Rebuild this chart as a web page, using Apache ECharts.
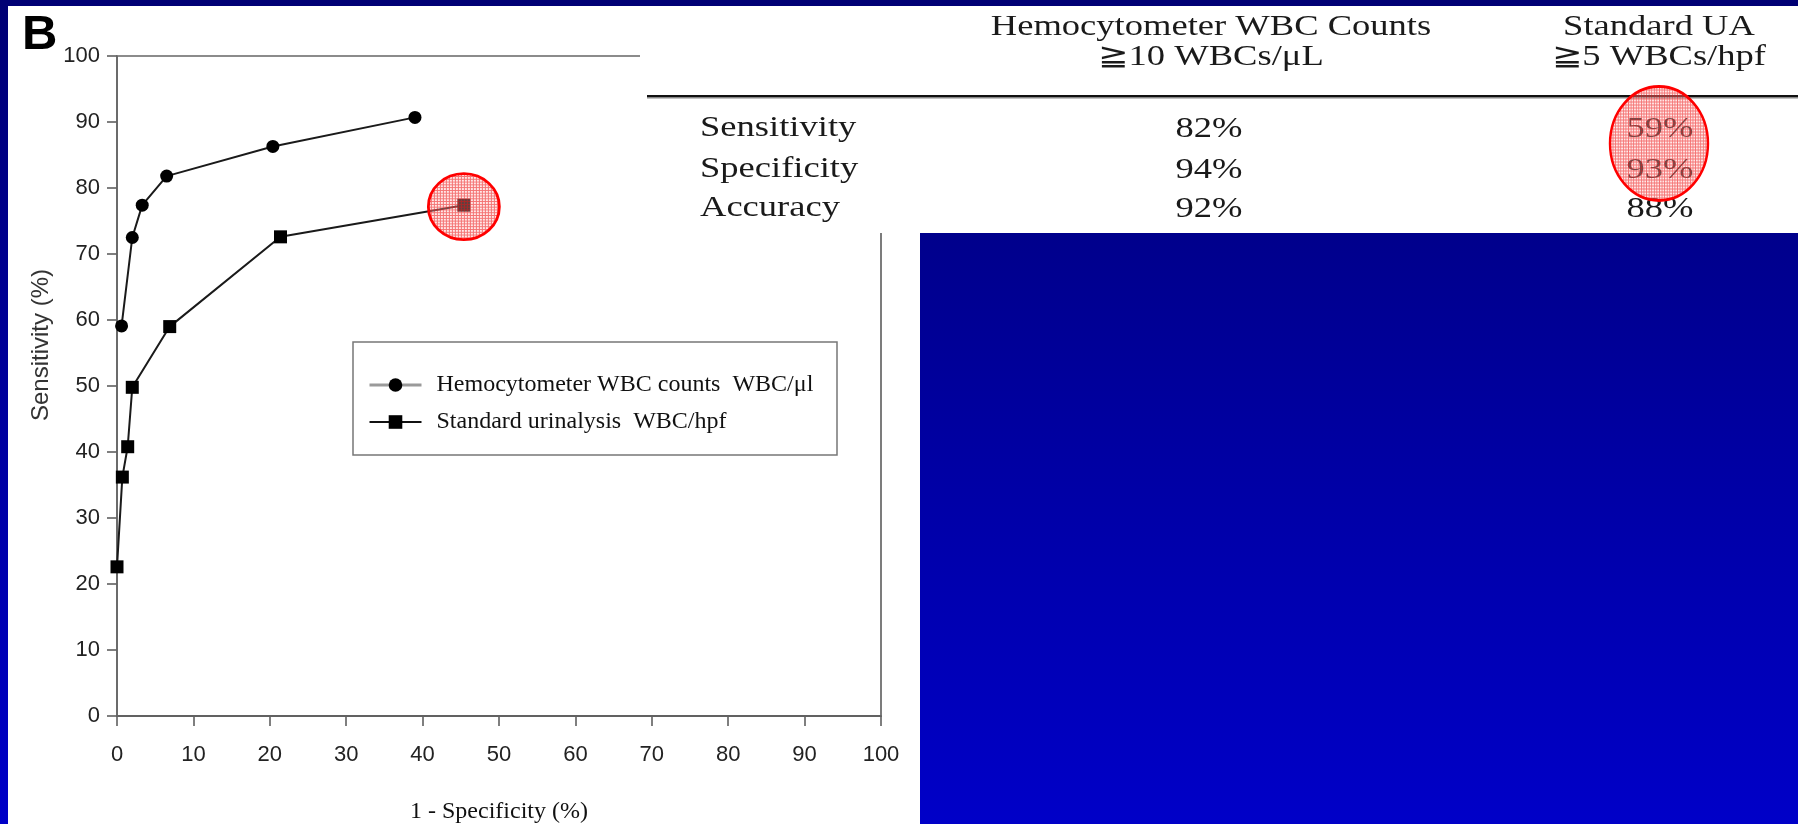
<!DOCTYPE html>
<html>
<head>
<meta charset="utf-8">
<script src="https://cdn.jsdelivr.net/npm/echarts@6/dist/echarts.min.js"></script>
<style>
html,body{margin:0;padding:0;background:#00009a;overflow:hidden;}
#c{width:1798px;height:824px;}
</style>
</head>
<body>
<div id="c"></div>
<script>
// ---------- data ----------
const seriesNames = ['Hemocytometer WBC counts  WBC/\u03bcl', 'Standard urinalysis  WBC/hpf'];
const hemoX = [0.6, 2.0, 3.3, 6.5, 20.4, 39.0];
const hemoY = [59.1, 72.5, 77.4, 81.8, 86.3, 90.7];
const uaX = [0, 0.7, 1.4, 2.0, 6.9, 21.4, 45.4];
const uaY = [22.6, 36.2, 40.8, 49.8, 59.0, 72.6, 77.4];
const xAxisName = '1 - Specificity (%)';
const yAxisName = 'Sensitivity (%)';
const panelLabel = 'B';
const tableColHeaders = [['Hemocytometer WBC Counts', '\u226710 WBCs/\u03bcL'], ['Standard UA', '\u22675 WBCs/hpf']];
const tableRowLabels = ['Sensitivity', 'Specificity', 'Accuracy'];
const hemoStats = ['82%', '94%', '92%'];
const uaStats = ['59%', '93%', '88%'];

// ---------- chart ----------
const chart = echarts.init(document.getElementById('c'), null, {renderer: 'canvas'});

function pts(xs, ys) { return xs.map((x, i) => [x, ys[i]]); }

const tickFont = '"Liberation Sans", Arial, sans-serif';
const serif = '"Liberation Serif", "Times New Roman", serif';

chart.setOption({
  animation: false,
  backgroundColor: {
    type: 'linear', x: 0, y: 0, x2: 0, y2: 1,
    colorStops: [{offset: 0, color: '#000074'}, {offset: 1, color: '#0000c8'}]
  },
  grid: {
    left: 117, top: 56, width: 764, height: 660,
    containLabel: false, outerBoundsMode: 'none',
    show: true, borderColor: '#666', borderWidth: 1.7, backgroundColor: 'transparent', z: 1
  },
  legend: {
    orient: 'vertical', left: 363, top: 368,
    itemWidth: 52, itemHeight: 17, itemGap: 13,
    textStyle: {fontFamily: serif, fontSize: 24, color: '#111', lineHeight: 24, padding: [0, 0, 0, 10]},
    data: [
      {name: seriesNames[0], lineStyle: {color: '#9a9a9a', width: 3}},
      {name: seriesNames[1], lineStyle: {color: '#111', width: 2}}
    ],
    z: 6
  },
  xAxis: {
    type: 'value', min: 0, max: 100, interval: 10,
    name: xAxisName, nameLocation: 'middle', nameGap: 84,
    nameTextStyle: {fontFamily: serif, fontSize: 24, color: '#111'},
    axisLine: {show: true, onZero: false, lineStyle: {color: '#555', width: 1.8}},
    axisTick: {show: true, length: 10, lineStyle: {color: '#555', width: 1.5}},
    axisLabel: {fontFamily: tickFont, fontSize: 22, color: '#222', margin: 28},
    splitLine: {show: false}
  },
  yAxis: {
    type: 'value', min: 0, max: 100, interval: 10,
    axisLine: {show: true, onZero: false, lineStyle: {color: '#666', width: 1.5}},
    axisTick: {show: true, length: 10, lineStyle: {color: '#555', width: 1.5}},
    axisLabel: {fontFamily: tickFont, fontSize: 22, color: '#222', margin: 17},
    splitLine: {show: false}
  },
  series: [
    {
      name: seriesNames[0], type: 'line', data: pts(hemoX, hemoY),
      symbol: 'circle', symbolSize: 13,
      lineStyle: {color: '#1a1a1a', width: 2},
      itemStyle: {color: '#000'}, z: 3
    },
    {
      name: seriesNames[1], type: 'line', data: pts(uaX, uaY),
      symbol: 'rect', symbolSize: 13,
      lineStyle: {color: '#1a1a1a', width: 2},
      itemStyle: {color: '#000'}, z: 3
    }
  ]
});

// red hatched pattern for highlight ellipses
function makePattern() {
  const cv = document.createElement('canvas');
  cv.width = 3; cv.height = 3;
  const g = cv.getContext('2d');
  g.fillStyle = 'rgba(255,190,190,0.35)';
  g.fillRect(0, 0, 3, 3);
  g.fillStyle = 'rgba(235,20,20,0.55)';
  g.fillRect(0, 0, 3, 1);
  g.fillRect(0, 1, 1, 2);
  return {image: cv, repeat: 'repeat'};
}
const pat1 = makePattern();
const pat2 = makePattern();

const hp = chart.convertToPixel({gridIndex: 0}, [uaX[uaX.length - 1], uaY[uaY.length - 1]]);

// table layout
const colCenters = [1211, 1659];
const rowMid = [128, 169, 208];
const headMid = [27, 57];
const tScale = 1.26;
const tFont = 29;

const g = [];
// white panels
g.push({type: 'rect', id: 'panelChart', z: -10, shape: {x: 8, y: 6, width: 912, height: 830}, style: {fill: '#fff'}, silent: true});
g.push({type: 'rect', id: 'panelTable', z: 10, shape: {x: 640, y: 6, width: 1170, height: 227}, style: {fill: '#fff'}, silent: true});
// table rule
g.push({type: 'rect', id: 'tRule', z: 11, shape: {x: 647, y: 95, width: 1160, height: 2.6}, style: {fill: '#111'}});
g.push({type: 'rect', id: 'tRule2', z: 11, shape: {x: 647, y: 97.6, width: 1160, height: 1}, style: {fill: '#888'}});
// headers
tableColHeaders.forEach((hs, ci) => {
  hs.forEach((t, li) => {
    g.push({type: 'text', z: 12, x: colCenters[ci], y: headMid[li], scaleX: tScale,
      style: {text: t, fontFamily: serif + ', "DejaVu Serif"', fontSize: tFont, fill: '#1a1a1a', align: 'center', verticalAlign: 'middle'}});
  });
});
tableRowLabels.forEach((t, ri) => {
  g.push({type: 'text', z: 12, x: 700, y: rowMid[ri], scaleX: tScale,
    style: {text: t, fontFamily: serif, fontSize: tFont, fill: '#1a1a1a', align: 'left', verticalAlign: 'middle'}});
  g.push({type: 'text', z: 12, x: colCenters[0] - 2, y: rowMid[ri] + 1, scaleX: tScale,
    style: {text: hemoStats[ri], fontFamily: serif, fontSize: tFont, fill: '#1a1a1a', align: 'center', verticalAlign: 'middle'}});
  g.push({type: 'text', z: 12, x: colCenters[1] + 1, y: rowMid[ri] + 1, scaleX: tScale,
    style: {text: uaStats[ri], fontFamily: serif, fontSize: tFont, fill: '#1a1a1a', align: 'center', verticalAlign: 'middle'}});
});
// table highlight ellipse over 59% / 93%
g.push({type: 'circle', z: 13, x: colCenters[1], y: (rowMid[0] + rowMid[1]) / 2 - 5, scaleX: 49 / 57,
  shape: {cx: 0, cy: 0, r: 57}, style: {fill: pat2, stroke: '#ff0000', lineWidth: 2.8}});
// chart highlight ellipse
g.push({type: 'circle', z: 8, x: hp[0], y: hp[1] + 1.5, scaleY: 33 / 35.5,
  shape: {cx: 0, cy: 0, r: 35.5}, style: {fill: pat1, stroke: '#ff0000', lineWidth: 2.8}});
// legend box
g.push({type: 'rect', z: 5, shape: {x: 353, y: 342, width: 484, height: 113},
  style: {fill: '#fff', stroke: '#777', lineWidth: 1.5}});
// y axis name
g.push({type: 'text', z: 4, x: 41, y: 345, rotation: Math.PI / 2,
  style: {text: yAxisName, fontFamily: tickFont, fontSize: 24, fill: '#333', align: 'center', verticalAlign: 'middle'}});
// panel label
g.push({type: 'text', z: 4, x: 22, y: 35,
  style: {text: panelLabel, fontFamily: tickFont, fontWeight: 'bold', fontSize: 49, fill: '#000', align: 'left', verticalAlign: 'middle'}});

chart.setOption({graphic: g});
</script>
</body>
</html>
